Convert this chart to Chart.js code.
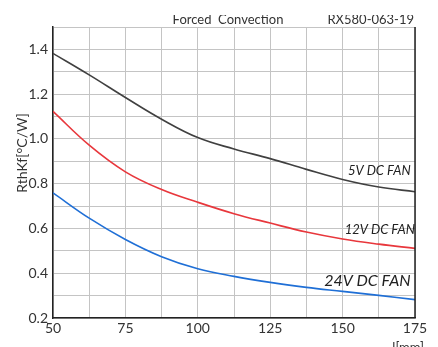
<!DOCTYPE html>
<html>
<head>
<meta charset="utf-8">
<script src="https://cdn.jsdelivr.net/npm/chart.js@4.4.0/dist/chart.umd.min.js"></script>
<style>
  html, body { margin: 0; padding: 0; background: #fff; }
  #wrap { width: 438px; height: 347px; }
</style>
</head>
<body>
<div id="wrap"><canvas id="chart" width="438" height="347"></canvas></div>
<script>
// longueur du dissipateur (mm)
const longueurs = [50, 62.5, 75, 87.5, 100, 112.5, 125, 137.5, 150, 162.5, 175];

// résistance thermique [°C/W]
const fan5V = [1.382, 1.286, 1.185, 1.088, 1.006, 0.955, 0.912, 0.864, 0.819, 0.785, 0.764];
const fan12V = [1.123, 0.972, 0.853, 0.774, 0.717, 0.666, 0.624, 0.584, 0.553, 0.530, 0.511];
const fan24V = [0.759, 0.646, 0.551, 0.474, 0.420, 0.386, 0.359, 0.337, 0.319, 0.301, 0.282];

const nomsSeries = ["5V DC FAN", "12V DC FAN", "24V DC FAN"];
const xTickLabels = [50, 75, 100, 125, 150, 175];
const yTickLabels = [0.2, 0.4, 0.6, 0.8, 1.0, 1.2, 1.4];

const titre = "Forced  Convection";
const reference = "RX580-063-19";
const titreY = "RthKf[°C/W]";
const titreX = "l[mm]";

function toPoints(vals) {
  return vals.map((v, i) => ({ x: longueurs[i], y: v }));
}

// textes ajoutés autour du graphique
const textesPlugin = {
  id: "textes",
  afterDraw(chart) {
    const ctx = chart.ctx;
    const area = chart.chartArea;
    const xs = chart.scales.x;

    // bordure droite
    ctx.save();
    ctx.strokeStyle = "#222";
    ctx.lineWidth = 1.5;
    ctx.beginPath();
    ctx.moveTo(area.right, area.top);
    ctx.lineTo(area.right, area.bottom);
    ctx.stroke();
    ctx.restore();

    // titre coupé en haut
    ctx.save();
    ctx.beginPath();
    ctx.rect(0, 15, chart.width, chart.height);
    ctx.clip();
    ctx.fillStyle = "#333";
    ctx.font = "13px Lato";
    ctx.textBaseline = "alphabetic";
    ctx.textAlign = "center";
    ctx.fillText(titre, 228, 24);
    ctx.textAlign = "right";
    ctx.fillText(reference, 414, 24);
    ctx.restore();

    // titre axe Y
    ctx.save();
    ctx.fillStyle = "#333";
    ctx.font = "14px Lato";
    ctx.translate(22, 153);
    ctx.rotate(-Math.PI / 2);
    ctx.textAlign = "center";
    ctx.textBaseline = "middle";
    ctx.fillText(titreY, 0, 0);
    ctx.restore();

    // titre axe X
    ctx.save();
    ctx.fillStyle = "#333";
    ctx.font = "13px Lato";
    ctx.textAlign = "right";
    ctx.textBaseline = "alphabetic";
    ctx.fillText(titreX, 424, 352);
    ctx.restore();

    // étiquettes des courbes
    ctx.save();
    ctx.fillStyle = "#222";
    ctx.textAlign = "right";
    ctx.textBaseline = "middle";
    ctx.font = "italic 13px Lato";
    ctx.fillText(nomsSeries[0], xs.getPixelForValue(173.5), 171);
    ctx.fillText(nomsSeries[1], xs.getPixelForValue(175), 230);
    ctx.font = "italic 16px Lato";
    ctx.fillText(nomsSeries[2], xs.getPixelForValue(173.5), 281);
    ctx.restore();
  }
};

const ctx = document.getElementById("chart").getContext("2d");

const myChart = new Chart(ctx, {
  type: "line",
  data: {
    datasets: [
      { label: nomsSeries[0], data: toPoints(fan5V), borderColor: "#404040" },
      { label: nomsSeries[1], data: toPoints(fan12V), borderColor: "#e8373c" },
      { label: nomsSeries[2], data: toPoints(fan24V), borderColor: "#1f6fd6" },
    ],
  },
  options: {
    responsive: false,
    animation: false,
    layout: { padding: { top: 27, right: 23, left: 0, bottom: 0 } },
    elements: {
      point: { radius: 0 },
      line: { borderWidth: 1.6, tension: 0.4, fill: false },
    },
    plugins: {
      legend: { display: false },
      tooltip: { enabled: false },
    },
    scales: {
      x: {
        type: "linear",
        min: 50,
        max: 175,
        afterFit: (s) => { s.height = 29; },
        ticks: {
          stepSize: 12.5,
          autoSkip: false,
          maxRotation: 0,
          color: "#333",
          font: { family: "Lato", size: 14 },
          padding: 2,
          callback: (v) => (xTickLabels.includes(v) ? String(v) : ""),
        },
        grid: { color: "#c4c4c4", lineWidth: 1, drawTicks: false },
        border: { color: "#222", width: 1.5 },
      },
      y: {
        min: 0.2,
        max: 1.5,
        afterFit: (s) => { s.width = 53; },
        ticks: {
          stepSize: 0.1,
          autoSkip: false,
          color: "#333",
          font: { family: "Lato", size: 14 },
          padding: 5,
          callback: (v) => {
            const r = Math.round(v * 10) / 10;
            return yTickLabels.some((t) => Math.abs(t - r) < 1e-6) ? r.toFixed(1) : "";
          },
        },
        grid: { color: "#c4c4c4", lineWidth: 1, drawTicks: false },
        border: { color: "#222", width: 1.5 },
      },
    },
  },
  plugins: [textesPlugin],
});
</script>
</body>
</html>
